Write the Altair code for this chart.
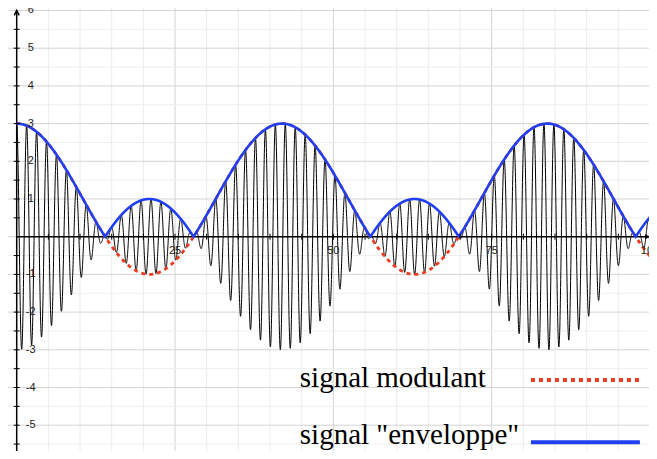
import altair as alt
import numpy as np
import pandas as pd

alt.data_transformers.disable_max_rows()

# ---- values ----
x_view = [-1.374, 99.84]         # visible x range
y_view = [-5.684, 6.066]         # visible y range
mod_offset = 1.0                 # modulating signal: 1 + 2 cos(0.15 t)
mod_amp = 2.0
mod_omega = 0.15
carrier_omega = 4.0              # carrier: cos(4 t)
t_start, t_end, t_step = 0.0, 101.2, 0.02

x_grid = list(range(5, 101, 5))
x_major = [25, 50, 75, 100]
x_labels = [25, 50, 75, 100]
y_grid = [k / 2 for k in range(-12, 13)]
y_labels = [-5, -4, -3, -2, -1, 1, 2, 3, 4, 5, 6]
y_ticks = [k / 2 for k in range(-12, 12) if k != 0]
x_ticks = list(range(5, 100, 5))

legend_texts = ["signal modulant", 'signal "enveloppe"']
legend_text_x = [44.7, 44.7]
legend_text_y = [-3.98, -5.50]
legend_line_x = [81.2, 98.4]
legend_line_y = [-3.80, -5.45]

x_axis_end = 100
y_axis_end = 6
y_axis_start = -6.5

# ---- tables ----
t = np.arange(t_start, t_end, t_step)
m = mod_offset + mod_amp * np.cos(mod_omega * t)
df_carrier = pd.DataFrame({"t": t, "s": m * np.cos(carrier_omega * t)})
df_mod = pd.DataFrame({"t": t, "m": m})
df_env = pd.DataFrame({"t": t, "e": np.abs(m)})

xs = alt.Scale(domain=x_view, nice=False, zero=False)
ys = alt.Scale(domain=y_view, nice=False, zero=False)


def X(f):
    return alt.X(f, type="quantitative", scale=xs, axis=None)


def Y(f):
    return alt.Y(f, type="quantitative", scale=ys, axis=None)


vgrid = alt.Chart(pd.DataFrame({"x": x_grid, "major": [v in x_major for v in x_grid]})).mark_rule(
    strokeWidth=1, clip=True
).encode(
    x=X("x"),
    color=alt.condition("datum.major", alt.value("#d4d4d4"), alt.value("#ececec")),
)

hgrid = alt.Chart(pd.DataFrame({"y": y_grid, "major": [float(v).is_integer() for v in y_grid]})).mark_rule(
    strokeWidth=1, clip=True
).encode(
    y=Y("y"),
    color=alt.condition("datum.major", alt.value("#d4d4d4"), alt.value("#efefef")),
)

carrier = alt.Chart(df_carrier).mark_line(color="black", strokeWidth=1, clip=True).encode(
    x=X("t"), y=Y("s")
)
modulant = alt.Chart(df_mod).mark_line(
    color="#f03a22", strokeWidth=2.8, strokeDash=[4, 4], clip=True
).encode(x=X("t"), y=Y("m"))
envelope = alt.Chart(df_env).mark_line(color="#1f3ff0", strokeWidth=2.6, clip=True).encode(
    x=X("t"), y=Y("e")
)

x_axis = alt.Chart(pd.DataFrame({"x": [0], "x2": [x_axis_end], "y": [0]})).mark_rule(
    color="black", strokeWidth=1.5, clip=True
).encode(x=X("x"), x2="x2", y=Y("y"))
y_axis = alt.Chart(pd.DataFrame({"x": [0], "y": [y_axis_start], "y2": [y_axis_end]})).mark_rule(
    color="black", strokeWidth=1.5, clip=True
).encode(x=X("x"), y=Y("y"), y2="y2")

y_arrow = alt.Chart(pd.DataFrame({"x": [0], "y": [y_axis_end]})).mark_point(
    shape="M -0.7 1.4 L 0 0 L 0.7 1.4", size=50, filled=False, color="black",
    strokeWidth=1.5, opacity=1, clip=True
).encode(x=X("x"), y=Y("y"))
x_arrow = alt.Chart(pd.DataFrame({"x": [x_axis_end], "y": [0]})).mark_point(
    shape="M 0 0 L -1.4 -0.7 L -1.4 0.7 Z", size=50, filled=True, color="black", opacity=1, clip=True
).encode(x=X("x"), y=Y("y"))

y_tick_marks = alt.Chart(pd.DataFrame({"x": [0] * len(y_ticks), "y": y_ticks})).mark_point(
    shape="stroke", size=36, color="black", strokeWidth=1, opacity=1, clip=True
).encode(x=X("x"), y=Y("y"))
x_tick_marks = alt.Chart(pd.DataFrame({"x": x_ticks, "y": [0] * len(x_ticks)})).mark_point(
    shape="stroke", size=36, angle=90, color="black", strokeWidth=1, opacity=1, clip=True
).encode(x=X("x"), y=Y("y"))

y_label_text = alt.Chart(pd.DataFrame({"x": [0] * len(y_labels), "y": y_labels,
                                       "lab": [str(v) for v in y_labels]})).mark_text(
    align="center", baseline="middle", dx=14, font="Liberation Sans", fontSize=11,
    color="#222222", clip=True
).encode(x=X("x"), y=Y("y"), text="lab:N")
x_label_text = alt.Chart(pd.DataFrame({"x": x_labels, "y": [0] * len(x_labels),
                                       "lab": [str(v) for v in x_labels]})).mark_text(
    align="center", baseline="top", dy=8, font="Liberation Sans", fontSize=11,
    color="#222222", clip=True
).encode(x=X("x"), y=Y("y"), text="lab:N")

legend_text = alt.Chart(pd.DataFrame({"x": legend_text_x, "y": legend_text_y, "lab": legend_texts})).mark_text(
    align="left", baseline="alphabetic", font="Liberation Serif", fontSize=29, color="black", clip=True
).encode(x=X("x"), y=Y("y"), text="lab:N")
legend_red = alt.Chart(pd.DataFrame({"x": [legend_line_x[0]], "x2": [legend_line_x[1]],
                                     "y": [legend_line_y[0]]})).mark_rule(
    color="#f03a22", strokeWidth=4, strokeDash=[4, 4], clip=True
).encode(x=X("x"), x2="x2", y=Y("y"))
legend_blue = alt.Chart(pd.DataFrame({"x": [legend_line_x[0]], "x2": [legend_line_x[1]],
                                      "y": [legend_line_y[1]]})).mark_rule(
    color="#1f3ff0", strokeWidth=4, clip=True
).encode(x=X("x"), x2="x2", y=Y("y"))

chart = alt.layer(
    vgrid, hgrid, carrier, x_axis, y_axis, modulant, envelope,
    y_arrow, x_arrow, y_tick_marks, x_tick_marks, y_label_text, x_label_text,
    legend_text, legend_red, legend_blue,
).properties(
    width=641, height=443,
    autosize=alt.AutoSizeParams(type="fit", contains="padding"),
    padding=0,
).configure_view(stroke=None)

chart.save("out.html", embed_options={"renderer": "svg", "actions": False})
